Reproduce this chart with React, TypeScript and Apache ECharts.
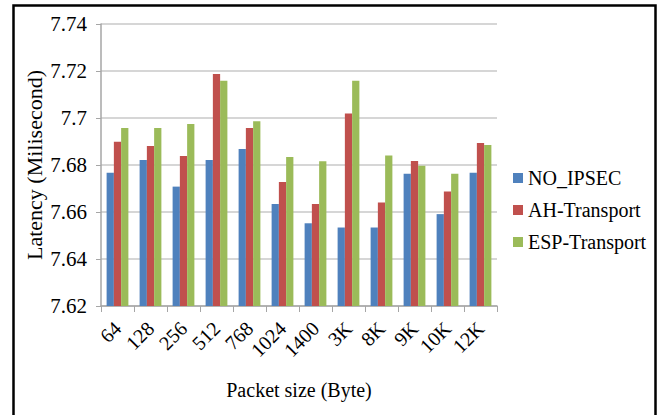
import React, { useEffect, useRef } from "react";
import * as echarts from "echarts";

const categories = ["64", "128", "256", "512", "768", "1024", "1400", "3K", "8K", "9K", "10K", "12K"];
const noIpsec = [7.6767, 7.6821, 7.6708, 7.6821, 7.6868, 7.6634, 7.6552, 7.6534, 7.6534, 7.6763, 7.6591, 7.6767];
const ahTransport = [7.6899, 7.6881, 7.6838, 7.7187, 7.6957, 7.6728, 7.6634, 7.7019, 7.664, 7.6817, 7.6687, 7.6894];
const espTransport = [7.6957, 7.6957, 7.6974, 7.7159, 7.6986, 7.6834, 7.6816, 7.7159, 7.684, 7.6797, 7.6763, 7.6885];

const FONT = "Liberation Serif";

export default function App() {
  const ref = useRef<HTMLDivElement>(null);

  useEffect(() => {
    if (!ref.current) return;
    const chart = echarts.init(ref.current, undefined, { renderer: "svg" });
    const barBase = { type: "bar" as const, barGap: "0%", barCategoryGap: "34%" };
    chart.setOption({
      animation: false,
      backgroundColor: "#ffffff",
      textStyle: { fontFamily: FONT, color: "#000" },
      grid: { left: 101, right: 161, top: 24, bottom: 109, containLabel: false },
      legend: {
        orient: "vertical",
        left: 508,
        top: 163,
        itemWidth: 10,
        itemHeight: 10,
        itemGap: 12,
        icon: "rect",
        textStyle: { fontFamily: FONT, fontSize: 20, color: "#000" },
        data: ["NO_IPSEC", "AH-Transport", "ESP-Transport"],
      },
      xAxis: {
        type: "category",
        data: categories,
        name: "Packet size (Byte)",
        nameLocation: "middle",
        nameGap: 74,
        nameMoveOverlap: false,
        nameTextStyle: { fontFamily: FONT, fontSize: 20, color: "#000" },
        axisLine: { lineStyle: { color: "#a6a6a6", width: 1.5 } },
        axisTick: { show: true, length: 6, lineStyle: { color: "#a6a6a6" } },
        axisLabel: { interval: 0, rotate: 45, fontFamily: FONT, fontSize: 20, color: "#000", margin: 19 },
      },
      yAxis: {
        type: "value",
        min: 7.62,
        max: 7.74,
        interval: 0.02,
        name: "Latency (Milisecond)",
        nameLocation: "middle",
        nameGap: 56,
        nameMoveOverlap: false,
        nameTextStyle: { fontFamily: FONT, fontSize: 22, color: "#000" },
        axisLine: { show: true, lineStyle: { color: "#a6a6a6", width: 1.5 } },
        axisTick: { show: true, length: 5, lineStyle: { color: "#a6a6a6" } },
        axisLabel: {
          fontFamily: FONT,
          fontSize: 21,
          color: "#000",
          margin: 14,
          formatter: (v: number) => String(+v.toFixed(2)),
        },
        splitLine: { lineStyle: { color: "#c8c8c8", width: 1.5 } },
      },
      series: [
        { ...barBase, name: "NO_IPSEC", data: noIpsec, itemStyle: { color: "#4F81BD" } },
        { ...barBase, name: "AH-Transport", data: ahTransport, itemStyle: { color: "#C0504D" } },
        { ...barBase, name: "ESP-Transport", data: espTransport, itemStyle: { color: "#9BBB59" } },
      ],
      graphic: [
        {
          type: "rect",
          left: 11,
          top: 3,
          shape: { width: 642, height: 430 },
          style: { fill: "none", stroke: "#000", lineWidth: 2.5 },
          silent: true,
        },
      ],
    });
    return () => chart.dispose();
  }, []);

  return (
    <div
      ref={ref}
      style={{ position: "fixed", left: 0, top: 0, width: 658, height: 415 }}
    />
  );
}
